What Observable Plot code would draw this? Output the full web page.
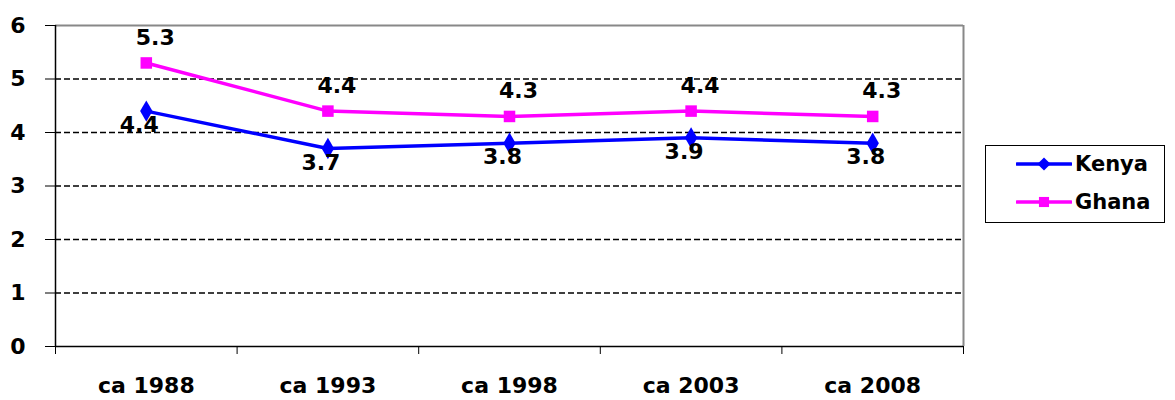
<!DOCTYPE html>
<html><head><meta charset="utf-8">
<script src="https://cdn.jsdelivr.net/npm/d3@7"></script>
<script src="https://cdn.jsdelivr.net/npm/@observablehq/plot@0.6"></script>
<style>
body{margin:0;background:#fff;font-family:"DejaVu Sans",sans-serif;}
#wrap{position:relative;width:1175px;height:400px;}
#chart svg text{font-family:"DejaVu Sans",sans-serif !important;font-weight:700 !important;font-size:22px !important;fill:#000;}
#legend{position:absolute;left:985px;top:145px;width:180px;height:78px;border:1px solid #000;box-sizing:border-box;background:#fff;}
.row{position:absolute;left:30px;display:flex;align-items:center;font-family:"DejaVu Sans",sans-serif;font-weight:700;font-size:21px;color:#000;}
.row svg{display:block;margin-right:3px;}
</style></head>
<body><div id="wrap"><div id="chart"></div><div id="legend"></div></div>
<script>
const categories = ["ca 1988","ca 1993","ca 1998","ca 2003","ca 2008"];
const kenya = [4.4,3.7,3.8,3.9,3.8];
const ghana = [5.3,4.4,4.3,4.4,4.3];
const seriesNames = ["Kenya","Ghana"];
const seriesColors = ["#0000FF","#FF00FF"];
const yTicks = [0,1,2,3,4,5,6];
const gridValues = [1,2,3,4,5];

const kData = categories.map((c,i)=>({i:i+0.5, v:kenya[i]}));
const gData = categories.map((c,i)=>({i:i+0.5, v:ghana[i]}));

const chart = Plot.plot({
  width:1175, height:400,
  marginLeft:55, marginRight:212, marginTop:25, marginBottom:54,
  style:{color:"#000", background:"#fff", overflow:"visible", fontFamily:"DejaVu Sans", fontSize:"22px"},
  x:{type:"linear", domain:[0,categories.length], label:null},
  y:{domain:[0,6], label:null},
  marks:[
    Plot.ruleY(gridValues,{stroke:"#000",strokeWidth:1.5,strokeDasharray:"6,3"}),
    Plot.ruleY([6],{stroke:"#888",strokeWidth:2}),
    Plot.ruleX([categories.length],{stroke:"#888",strokeWidth:2}),
    Plot.ruleX([0],{stroke:"#000",strokeWidth:1.5}),
    Plot.ruleY([0],{stroke:"#000",strokeWidth:1.5}),
    Plot.axisY({ticks:yTicks, tickSize:10, tickPadding:20, tickFormat:d=>d, label:null, strokeWidth:1}),
    Plot.axisX({ticks:d3.range(categories.length+1), tickSize:8, tickFormat:()=>"", label:null, strokeWidth:1}),
    Plot.axisX({ticks:categories.map((c,i)=>i+0.5), tickSize:0, tickPadding:31, label:null, tickFormat:d=>categories[Math.round(d-0.5)]}),
    Plot.line(kData,{x:"i",y:"v",stroke:seriesColors[0],strokeWidth:3.5}),
    Plot.line(gData,{x:"i",y:"v",stroke:seriesColors[1],strokeWidth:3.5}),
    Plot.dot(kData,{x:"i",y:"v",symbol:"diamond",fill:seriesColors[0],r:6.5}),
    Plot.dot(gData,{x:"i",y:"v",symbol:"square",fill:seriesColors[1],r:6.5}),
    Plot.text(kData,{x:"i",y:"v",text:d=>d.v.toFixed(1),dy:14,dx:-7}),
    Plot.text(gData,{x:"i",y:"v",text:d=>d.v.toFixed(1),dy:-25,dx:9})
  ]
});
document.getElementById("chart").appendChild(chart);

const legend = document.getElementById("legend");
seriesNames.forEach((name,k)=>{
  const row = document.createElement("div");
  row.className="row";
  row.style.top = (k===0? 6 : 44)+"px";
  const s = d3.create("svg").attr("width",56).attr("height",24);
  s.append("line").attr("x1",1).attr("x2",55).attr("y1",12).attr("y2",12).attr("stroke",seriesColors[k]).attr("stroke-width",3.5).attr("stroke-linecap","round");
  s.append("path").attr("transform","translate(28,12)").attr("d",d3.symbol(k===0?d3.symbolDiamond2:d3.symbolSquare2, k===0?110:130)()).attr("fill",seriesColors[k]);
  row.appendChild(s.node());
  const t = document.createElement("span"); t.textContent=name; row.appendChild(t);
  legend.appendChild(row);
});
</script></body></html>
